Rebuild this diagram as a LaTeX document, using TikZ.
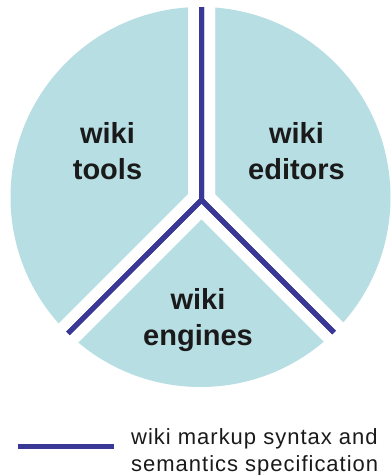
\documentclass[tikz,border=0pt]{standalone}
\usepackage{fontspec}
\setmainfont{Liberation Sans}
\newfontfamily\legendfont[LetterSpace=4.5]{Liberation Sans}
\definecolor{piefill}{HTML}{B7DEE3}
\definecolor{specblue}{HTML}{3A3896}
\definecolor{labeltext}{HTML}{1A1A1A}
\tikzset{
  sectorlabel/.style={anchor=north, inner sep=0pt, align=center, text=labeltext,
    font=\fontsize{29}{36}\selectfont\bfseries},
  gapband/.style={draw=white, line width=27pt, line join=miter},
  specline/.style={draw=specblue, line width=5pt, line join=miter},
  legendline/.style={draw=specblue, line width=4.5pt},
  legendtext/.style={anchor=north west, inner sep=0pt, align=left, text=labeltext,
    font=\legendfont\fontsize{22}{27}\selectfont}
}
\begin{document}
\begin{tikzpicture}[x=1pt, y=-1pt]
\useasboundingbox (0,0) rectangle (391,475);
\fill[white] (0,0) rectangle (391,475);
% pie
\coordinate (C) at (200.5,197);
\fill[piefill] (C) circle[radius=190];
% junction and ends
\coordinate (J) at (201.5,200);
\coordinate (T) at (201.5,7);
\coordinate (L) at (68,333.4);
\coordinate (R) at (334,332.5);
\coordinate (T2) at (201.5,-30);
\coordinate (L2) at (40,361.5);
\coordinate (R2) at (362,360.5);
% white gaps
\draw[gapband] (T2) -- (J) -- (L2);
\draw[gapband] (T2) -- (J) -- (R2);
\draw[gapband] (L2) -- (J) -- (R2);
% spec lines
\draw[specline] (T) -- (J) -- (L);
\draw[specline] (T) -- (J) -- (R);
\draw[specline] (L) -- (J) -- (R);
% labels
\node[sectorlabel] (tools) at (107.5,122) {wiki\\tools};
\node[sectorlabel] (editors) at (296.5,122) {wiki\\editors};
\node[sectorlabel] (engines) at (198,288) {wiki\\engines};
% legend
\coordinate (LA) at (18,446.5);
\coordinate (LB) at (113.5,446.5);
\draw[legendline] (LA) -- (LB);
\node[legendtext] (legend) at (131,428) {wiki markup syntax and\\semantics specification};
\end{tikzpicture}
\end{document}
